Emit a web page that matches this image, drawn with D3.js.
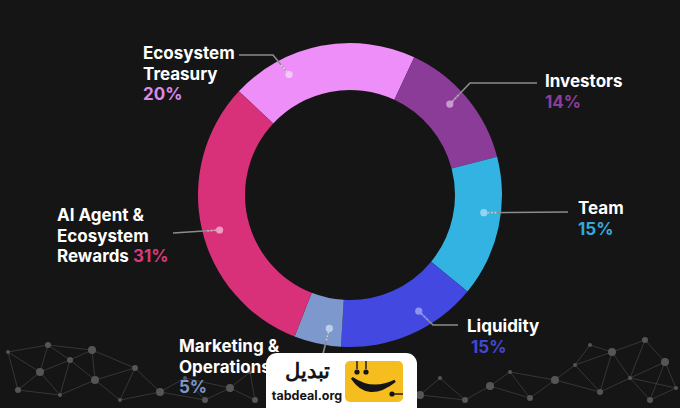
<!DOCTYPE html>
<html><head><meta charset="utf-8">
<script src="https://cdn.jsdelivr.net/npm/d3@7"></script>
<style>
html,body{margin:0;padding:0;background:#151515;}
svg{display:block;}
text{font-family:Inter,"Noto Sans",sans-serif;font-weight:700;}
</style></head>
<body>
<svg id="c" width="680" height="408"></svg>
<script>
// ---- data ----
const categories = ["Ecosystem Treasury","Investors","Team","Liquidity","Marketing & Operations","AI Agent & Ecosystem Rewards"];
const values = [20,14,15,15,5,31];
const colors = ["#ee8ef8","#8b3c98","#33b3e2","#4349e0","#7c98cc","#d8317a"];
const pctColors = ["#d98ae9","#8e3d9d","#35a8dc","#4247d6","#7b97cc","#d83a7c"];
const dotColors = ["#f6c6fb","#c79ad0","#8fd6f2","#8f93f0","#bcd0ee","#ef9cbf"];
// label text lines
const labelLines = [["Ecosystem","Treasury"],["Investors"],["Team"],["Liquidity"],["Marketing &","Operations"],["AI Agent &","Ecosystem","Rewards"]];

// ---- layout (positions, not data) ----
const W=680,H=408,cx=350,cy=195,rOuter=152,rInner=105,rDot=135;
const startDeg=-47;
const dotT=[0.28,0.45,0.41,0.37,0.3,0.48];
const leaderPts=[[[273,55],[239,55]],[[470,83],[537,83]],[[568,212]],[[433,325],[458,325]],[[322,358]],[[173,233]]];
const labelPos=[{x:143,y:59,pct:"below"},{x:545,y:87,pct:"below"},{x:578,y:214,pct:"below"},{x:467,y:332,pct:"below",pdx:4},{x:179,y:352,pct:"below"},{x:57,y:221,pct:"inline"}];
const lineH=20.5;

const svg=d3.select("#c");
svg.append("rect").attr("width",W).attr("height",H).attr("fill","#151515");

// decorative network at the bottom
const netNodes=[[8,352],[18,390],[40,372],[60,395],[70,360],[95,380],[120,400],[135,368],[160,392],[185,378],[205,400],[230,388],[250,372],[255,400],[420,395],[440,378],[465,400],[490,386],[510,372],[530,398],[555,380],[575,365],[600,392],[612,352],[630,378],[650,400],[665,362],[676,388],[48,345],[92,350],[590,345],[645,340]];
const netG=svg.append("g").attr("opacity",0.55);
netNodes.forEach((a,i)=>netNodes.forEach((b,j)=>{
  if(j>i){const d=Math.hypot(a[0]-b[0],a[1]-b[1]); if(d<48) netG.append("line").attr("x1",a[0]).attr("y1",a[1]).attr("x2",b[0]).attr("y2",b[1]).attr("stroke","#6b6b6b").attr("stroke-width",0.7);}
}));
netG.selectAll("circle").data(netNodes).join("circle").attr("cx",d=>d[0]).attr("cy",d=>d[1]).attr("r",(d,i)=>2+(i%3)).attr("fill","#8a8a8a");

// donut
const pie=d3.pie().sort(null).value(d=>d).startAngle(startDeg*Math.PI/180).endAngle((startDeg+360)*Math.PI/180);
const arcs=pie(values);
const arc=d3.arc().innerRadius(rInner).outerRadius(rOuter);
const g=svg.append("g").attr("transform",`translate(${cx},${cy})`);
g.selectAll("path").data(arcs).join("path").attr("d",arc).attr("fill",(d,i)=>colors[i]);

// leaders & labels
arcs.forEach((a,i)=>{
  const ang=a.startAngle+dotT[i]*(a.endAngle-a.startAngle);
  const dx=cx+rDot*Math.sin(ang), dy=cy-rDot*Math.cos(ang);
  const pts=[[dx,dy],...leaderPts[i]];
  svg.append("path").attr("d",d3.line()(pts)).attr("fill","none").attr("stroke","#8c8c8c").attr("stroke-width",1.6);
  const p1=pts[1];
  const len=Math.hypot(p1[0]-dx,p1[1]-dy);
  const f=Math.min(1,14/len);
  svg.append("line").attr("x1",dx).attr("y1",dy).attr("x2",dx+(p1[0]-dx)*f).attr("y2",dy+(p1[1]-dy)*f).attr("stroke",dotColors[i]).attr("stroke-width",1.6).attr("stroke-dasharray","2,1.5");
  svg.append("circle").attr("cx",dx).attr("cy",dy).attr("r",3.6).attr("fill",dotColors[i]);
});

labelLines.forEach((lines,i)=>{
  const p=labelPos[i];
  const t=svg.append("text").attr("x",p.x).attr("y",p.y).attr("font-size",17).attr("fill","#ffffff");
  lines.forEach((l,k)=>{
    t.append("tspan").attr("x",p.x).attr("y",p.y+k*lineH).text(l);
  });
  if(p.pct==="inline"){
    t.append("tspan").attr("fill",pctColors[i]).text(" "+values[i]+"%");
  } else {
    svg.append("text").attr("x",p.x+(p.pdx||0)).attr("y",p.y+lines.length*lineH).attr("font-size",17).attr("fill",pctColors[i]).text(values[i]+"%");
  }
});

// logo badge
const lg=svg.append("g");
lg.append("rect").attr("x",266).attr("y",353).attr("width",151).attr("height",70).attr("rx",11).attr("fill","#ffffff");
lg.append("rect").attr("x",345).attr("y",361).attr("width",58).attr("height",41).attr("rx",5).attr("fill","#f5be1e");
lg.append("path").attr("d","M352,378 Q368,402 395,381 Q372,392 352,378 Z").attr("fill","#151515").attr("stroke","#151515").attr("stroke-width",2.5);
lg.append("circle").attr("cx",357).attr("cy",372).attr("r",2.6).attr("fill","#151515");
lg.append("circle").attr("cx",366).attr("cy",372).attr("r",2.6).attr("fill","#151515");
lg.append("line").attr("x1",357).attr("y1",361).attr("x2",357).attr("y2",369).attr("stroke","#151515").attr("stroke-width",1.4);
lg.append("line").attr("x1",366).attr("y1",361).attr("x2",366).attr("y2",369).attr("stroke","#151515").attr("stroke-width",1.4);
lg.append("circle").attr("cx",392).attr("cy",394).attr("r",2.6).attr("fill","#151515");
lg.append("line").attr("x1",392).attr("y1",394).attr("x2",403).attr("y2",394).attr("stroke","#151515").attr("stroke-width",1.4);
lg.append("text").attr("x",307).attr("y",378).attr("text-anchor","middle").attr("font-family","'Noto Sans Arabic','DejaVu Sans',sans-serif").attr("font-size",21).attr("font-weight",400).attr("fill","#151515").text("تبدیل");
lg.append("text").attr("x",307).attr("y",400).attr("text-anchor","middle").attr("font-size",12.5).attr("fill","#151515").text("tabdeal.org");
</script>
</body></html>
